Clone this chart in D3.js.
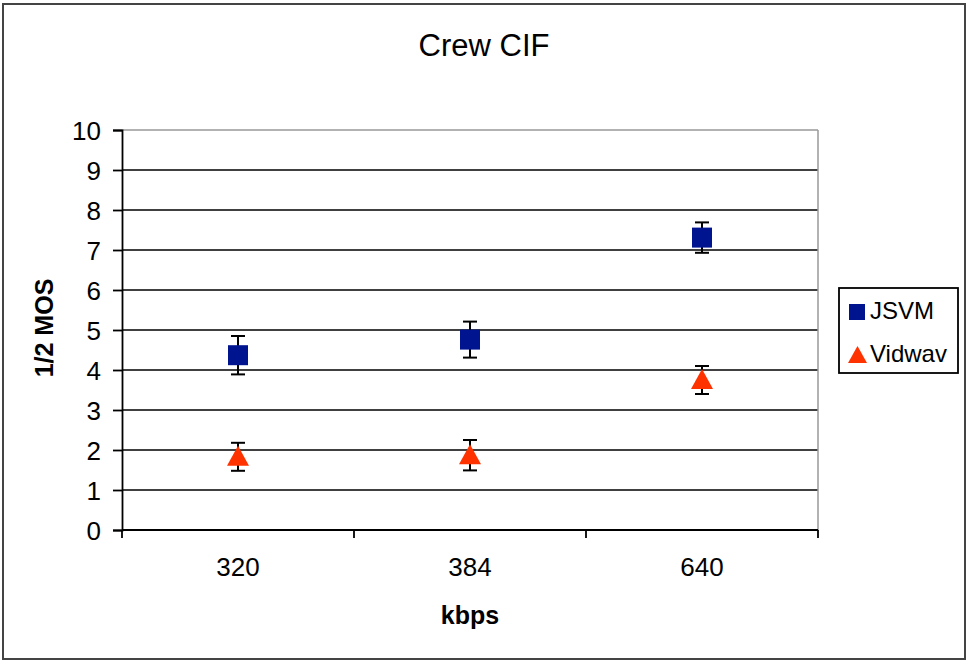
<!DOCTYPE html>
<html><head><meta charset="utf-8">
<script src="https://cdn.jsdelivr.net/npm/d3@7"></script>
<style>
body{margin:0;background:#fff;}
svg{display:block;}
text{font-family:"Liberation Sans",Arial,sans-serif;fill:#000;}
</style></head>
<body><svg id="c" width="967" height="661"></svg>
<script>
const categories = ["320","384","640"];
const seriesNames = ["JSVM","Vidwav"];
const jsvmValues = [4.37, 4.76, 7.31];
const jsvmErrors = [0.48, 0.45, 0.38];
const vidwavValues = [1.83, 1.87, 3.75];
const vidwavErrors = [0.35, 0.38, 0.35];
const yTicks = [0,1,2,3,4,5,6,7,8,9,10];
const chartTitle = "Crew CIF";
const xTitle = "kbps";
const yTitle = "1/2 MOS";

const svg = d3.select("#c");
const L = 122, R = 818, T = 130, B = 530;
const x = d3.scaleBand().domain(categories).range([L, R]).padding(0);
const y = d3.scaleLinear().domain([0, 10]).range([B, T]);

// outer border
svg.append("rect").attr("x",3).attr("y",4).attr("width",962).attr("height",655)
  .attr("fill","#fff").attr("stroke","#444").attr("stroke-width",2);

// title
svg.append("text").attr("x",484).attr("y",56).attr("text-anchor","middle")
  .style("font-size","31px").text(chartTitle);

// gridlines
svg.append("g").selectAll("line").data(yTicks.filter(d => d > 0 && d < 10)).join("line")
  .attr("x1",L).attr("x2",R).attr("y1",d=>y(d)).attr("y2",d=>y(d))
  .attr("stroke","#000").attr("stroke-width",1.6);

// plot border (top & right gray)
svg.append("line").attr("x1",L).attr("x2",R).attr("y1",y(10)).attr("y2",y(10))
  .attr("stroke","#999").attr("stroke-width",1.5);
svg.append("line").attr("x1",R).attr("x2",R).attr("y1",T).attr("y2",B)
  .attr("stroke","#999").attr("stroke-width",1.5);

// y axis
const yAxis = svg.append("g").attr("transform",`translate(${L},0)`)
  .call(d3.axisLeft(y).tickValues(yTicks).tickSize(9).tickPadding(12).tickFormat(d3.format("d")));
yAxis.select(".domain").attr("stroke","#000").attr("stroke-width",1.8);
yAxis.selectAll(".tick line").attr("stroke","#000").attr("stroke-width",1.8);
yAxis.selectAll(".tick text").style("font-size","26px").attr("dy","0.35em");

// x axis baseline and boundary ticks
const xb = svg.append("g");
xb.append("line").attr("x1",L).attr("x2",R).attr("y1",B).attr("y2",B)
  .attr("stroke","#000").attr("stroke-width",1.8);
const bounds = categories.map(c => x(c)).concat([x(categories[categories.length-1]) + x.bandwidth()]);
xb.selectAll("line.t").data(bounds).join("line").attr("class","t")
  .attr("x1",d=>d).attr("x2",d=>d).attr("y1",B).attr("y2",B+8)
  .attr("stroke","#000").attr("stroke-width",1.8);
const xAxis = svg.append("g").attr("transform",`translate(0,${B})`)
  .call(d3.axisBottom(x).tickSize(0).tickPadding(28));
xAxis.select(".domain").remove();
xAxis.selectAll(".tick text").style("font-size","26px").attr("dy","0.71em");

// axis titles
svg.append("text").attr("x",470).attr("y",624).attr("text-anchor","middle")
  .style("font-size","25px").style("font-weight","bold").text(xTitle);
svg.append("text").attr("transform","translate(53,328) rotate(-90)").attr("text-anchor","middle")
  .style("font-size","25px").style("font-weight","bold").text(yTitle);

const blue = "#001490", red = "#FF3300";
const series = [
  {name: seriesNames[0], vals: jsvmValues, errs: jsvmErrors, color: blue, shape: "square"},
  {name: seriesNames[1], vals: vidwavValues, errs: vidwavErrors, color: red, shape: "triangle"}
];
const cx = c => x(c) + x.bandwidth()/2;

series.forEach(s => {
  const g = svg.append("g");
  const data = categories.map((c,i) => ({c, v: s.vals[i], e: s.errs[i]}));
  // error bars
  g.selectAll("line.v").data(data).join("line").attr("class","v")
    .attr("x1",d=>cx(d.c)).attr("x2",d=>cx(d.c)).attr("y1",d=>y(d.v+d.e)).attr("y2",d=>y(d.v-d.e))
    .attr("stroke","#000").attr("stroke-width",2);
  g.selectAll("line.ct").data(data).join("line").attr("class","ct")
    .attr("x1",d=>cx(d.c)-7).attr("x2",d=>cx(d.c)+7).attr("y1",d=>y(d.v+d.e)).attr("y2",d=>y(d.v+d.e))
    .attr("stroke","#000").attr("stroke-width",2);
  g.selectAll("line.cb").data(data).join("line").attr("class","cb")
    .attr("x1",d=>cx(d.c)-7).attr("x2",d=>cx(d.c)+7).attr("y1",d=>y(d.v-d.e)).attr("y2",d=>y(d.v-d.e))
    .attr("stroke","#000").attr("stroke-width",2);
  if (s.shape === "square") {
    g.selectAll("rect").data(data).join("rect")
      .attr("x",d=>cx(d.c)-10).attr("y",d=>y(d.v)-10).attr("width",20).attr("height",20)
      .attr("fill",s.color);
  } else {
    g.selectAll("path").data(data).join("path")
      .attr("d",d=>{const px=cx(d.c), py=y(d.v); return `M${px},${py-11}L${px+11},${py+9}L${px-11},${py+9}Z`;})
      .attr("fill",s.color);
  }
});

// legend
const lg = svg.append("g");
lg.append("rect").attr("x",839).attr("y",288).attr("width",119).attr("height",85)
  .attr("fill","#fff").attr("stroke","#000").attr("stroke-width",1.8);
lg.append("rect").attr("x",849).attr("y",304).attr("width",16).attr("height",16).attr("fill",blue);
lg.append("path").attr("d","M857.5,346L867,363L848,363Z").attr("fill",red);
lg.append("text").attr("x",870).attr("y",319).style("font-size","24px").text(seriesNames[0]);
lg.append("text").attr("x",870).attr("y",362).style("font-size","24px").text(seriesNames[1]);
</script></body></html>
